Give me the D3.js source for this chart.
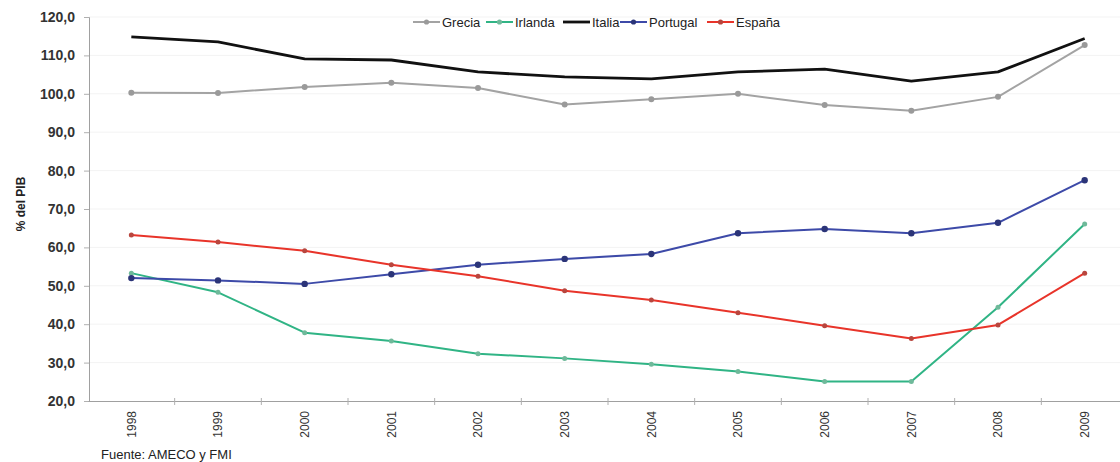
<!DOCTYPE html>
<html>
<head>
<meta charset="utf-8">
<script src="https://cdn.jsdelivr.net/npm/d3@7"></script>
<style>
  body { margin: 0; background: #fff; }
  svg { display: block; font-family: "Liberation Sans", Arial, sans-serif; }
</style>
</head>
<body>
<div id="chart"></div>
<script>
const years = ['1998','1999','2000','2001','2002','2003','2004','2005','2006','2007','2008','2009'];
const grecia   = [100.3, 100.2, 101.8, 102.9, 101.5, 97.2, 98.6, 100.0, 97.1, 95.6, 99.2, 112.7];
const irlanda  = [53.3, 48.3, 37.8, 35.6, 32.3, 31.1, 29.6, 27.7, 25.1, 25.1, 44.4, 66.1];
const italia   = [114.8, 113.5, 109.1, 108.8, 105.7, 104.4, 103.9, 105.7, 106.4, 103.3, 105.7, 114.4];
const portugal = [52.0, 51.4, 50.5, 53.0, 55.5, 57.0, 58.3, 63.7, 64.8, 63.7, 66.4, 77.5];
const espana   = [63.2, 61.4, 59.1, 55.5, 52.5, 48.7, 46.3, 43.0, 39.6, 36.3, 39.8, 53.3];
const yTicks = [20, 30, 40, 50, 60, 70, 80, 90, 100, 110, 120];

const series = [
  {name: 'Grecia', values: grecia, color: '#a3a3a3', mark: '#9a9a9a', width: 2, r: 3},
  {name: 'Irlanda', values: irlanda, color: '#30b485', mark: '#6fb99a', width: 2, r: 2.5},
  {name: 'Italia', values: italia, color: '#111111', mark: null, width: 2.8, r: 0},
  {name: 'Portugal', values: portugal, color: '#3d4aa8', mark: '#2b3478', width: 2, r: 3.2},
  {name: 'España', values: espana, color: '#e8342a', mark: '#b8463e', width: 2, r: 2.5}
];

const width = 1120, height = 462;
const svg = d3.select('#chart').append('svg')
  .attr('width', width).attr('height', height);

const x = d3.scaleBand().domain(years).range([88, 1128]).padding(0);
const cx = d => x(d) + x.bandwidth() / 2;
const y = d3.scaleLinear().domain([20, 120]).range([401, 17]);

// faint grid
svg.append('g').selectAll('line')
  .data(yTicks.slice(1))
  .join('line')
  .attr('x1', 89).attr('x2', 1120)
  .attr('y1', d => y(d)).attr('y2', d => y(d))
  .attr('stroke', '#f3f3f3').attr('stroke-width', 1);

// y axis
const yAxis = svg.append('g')
  .attr('transform', 'translate(89,0)')
  .call(d3.axisLeft(y).tickValues(yTicks).tickSize(5).tickPadding(9)
    .tickFormat(d => d3.format('.1f')(d).replace('.', ',')));
yAxis.select('.domain').attr('stroke', '#a0a0a0');
yAxis.selectAll('.tick line').attr('stroke', '#b0b0b0');
yAxis.selectAll('text')
  .attr('font-size', '14px').attr('font-weight', 'bold')
  .attr('fill', '#333').attr('font-family', '"Liberation Sans", Arial, sans-serif');

// x axis
const xAxis = svg.append('g')
  .attr('transform', 'translate(0,401)')
  .call(d3.axisBottom(x).tickSize(0).tickPadding(0));
xAxis.select('.domain').attr('stroke', '#a0a0a0');
xAxis.selectAll('text')
  .attr('font-size', '12px').attr('fill', '#333')
  .attr('font-family', '"Liberation Sans", Arial, sans-serif')
  .attr('text-anchor', 'end')
  .attr('transform', 'rotate(-90)')
  .attr('x', -10).attr('y', 0).attr('dy', '0.35em');
svg.append('g').selectAll('line')
  .data(years.slice(1))
  .join('line')
  .attr('x1', d => x(d)).attr('x2', d => x(d))
  .attr('y1', 398).attr('y2', 405)
  .attr('stroke', '#b0b0b0');

// lines
const line = d3.line().x((d, i) => cx(years[i])).y(d => y(d));
series.forEach(s => {
  svg.append('path')
    .attr('d', line(s.values))
    .attr('fill', 'none')
    .attr('stroke', s.color)
    .attr('stroke-width', s.width)
    .attr('stroke-linejoin', 'round');
  if (s.mark) {
    svg.append('g').selectAll('circle')
      .data(s.values)
      .join('circle')
      .attr('cx', (d, i) => cx(years[i]))
      .attr('cy', d => y(d))
      .attr('r', s.r)
      .attr('fill', s.mark);
  }
});

// legend
const legendX = [413, 486, 563, 620, 707];
const legend = svg.append('g').attr('font-size', '13px').attr('fill', '#222');
series.forEach((s, i) => {
  const g = legend.append('g').attr('transform', `translate(${legendX[i]},22)`);
  g.append('line').attr('x1', 0).attr('x2', 27).attr('y1', 0).attr('y2', 0)
    .attr('stroke', s.color).attr('stroke-width', s.width);
  if (s.mark) g.append('circle').attr('cx', 13.5).attr('cy', 0).attr('r', 2.6).attr('fill', s.mark);
  g.append('text').attr('x', 29).attr('y', 0).attr('dy', '0.35em').text(s.name);
});

// y title
svg.append('text')
  .attr('transform', 'translate(21,204) rotate(-90)')
  .attr('text-anchor', 'middle').attr('dy', '0.35em')
  .attr('font-size', '12px').attr('font-weight', 'bold').attr('fill', '#222')
  .text('% del PIB');

// source
svg.append('text')
  .attr('x', 101).attr('y', 459)
  .attr('font-size', '13px').attr('fill', '#222')
  .text('Fuente: AMECO y FMI');
</script>
</body>
</html>
